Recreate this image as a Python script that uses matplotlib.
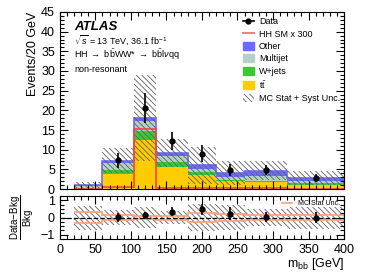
import numpy as np
import matplotlib
matplotlib.use("Agg")
import matplotlib.pyplot as plt
from matplotlib.lines import Line2D
from matplotlib.patches import Patch
from matplotlib.ticker import MultipleLocator

plt.rcParams['font.family'] = ['Liberation Sans', 'DejaVu Sans']
plt.rcParams['mathtext.fontset'] = 'custom'
plt.rcParams['mathtext.rm'] = 'Liberation Sans'
plt.rcParams['mathtext.it'] = 'Liberation Sans:italic'
plt.rcParams['hatch.linewidth'] = 0.6

# bin edges of m_bb [GeV]
edges = np.array([20, 60, 105, 135, 180, 220, 260, 320, 400])

# background stack, events / 20 GeV
ttbar = np.array([0.10, 3.7, 12.5, 5.5, 3.6, 2.0, 1.7, 1.10])
wjets = np.array([0.15, 1.2, 2.3, 1.3, 0.7, 0.3, 0.4, 0.35])
multijet = np.array([0.45, 1.7, 2.6, 1.6, 0.9, 0.7, 1.1, 0.55])
other = np.array([0.30, 0.6, 0.6, 0.7, 0.9, 1.0, 1.5, 0.80])

# total uncertainty (MC stat + syst) and MC stat only (relative)
unc_tot = np.array([0.7, 3.2, 11.0, 3.6, 4.7, 3.0, 2.3, 1.8])
mc_stat_rel = np.array([0.33, 0.14, 0.10, 0.12, 0.28, 0.22, 0.16, 0.13])

# HH signal (SM x 300)
hh = np.array([0.05, 0.6, 15.3, 0.3, 0.2, 0.2, 0.2, 0.1])

# data points
data_x = np.array([82.5, 120, 157.5, 200, 240, 290, 360])
data_y = np.array([7.3, 20.6, 12.3, 9.0, 4.9, 4.8, 2.8])
data_err = np.array([1.9, 3.7, 2.3, 2.1, 1.5, 1.3, 0.95])

col_tt = '#ffcc00'
col_w = '#33cc33'
col_mj = '#b3d1c9'
col_other = '#6b6bff'
col_hh = '#ff4040'
col_mcstat = '#ffa07a'
hatch_col = '#606060'
hatch = '\\\\\\\\\\\\'

fig = plt.figure(figsize=(3.74, 2.72), dpi=100)
ax = fig.add_axes([0.16, 0.305, 0.76, 0.651])
rax = fig.add_axes([0.16, 0.121, 0.76, 0.158])

# stacked backgrounds
base = np.zeros(len(ttbar))
for vals, col in [(ttbar, col_tt), (wjets, col_w), (multijet, col_mj), (other, col_other)]:
    top = base + vals
    ax.stairs(top, edges, baseline=base, fill=True, color=col, lw=0)
    base = top
total = base
ax.stairs(total, edges, baseline=None, color=col_other, lw=1.2)

widths = np.diff(edges)
centers = edges[:-1] + widths / 2
ax.bar(centers, 2 * unc_tot, bottom=total - unc_tot, width=widths, fill=False,
       hatch=hatch, edgecolor=hatch_col, lw=0)

ax.stairs(hh, edges, baseline=0, color=col_hh, lw=1.2)

ax.errorbar(data_x, data_y, yerr=data_err, fmt='o', color='black', ms=3.5,
            elinewidth=1.2, capsize=0)

ax.set_xlim(0, 400)
ax.set_ylim(0, 45)
ax.set_ylabel('Events/20 GeV', loc='top', fontsize=9)
ax.yaxis.set_label_coords(-0.075, 1.0)
ax.yaxis.set_major_locator(MultipleLocator(5))
ax.yaxis.set_minor_locator(MultipleLocator(1))
for a in (ax, rax):
    a.xaxis.set_major_locator(MultipleLocator(50))
    a.xaxis.set_minor_locator(MultipleLocator(10))
    a.tick_params(which='both', direction='in', top=True, right=True, labelsize=9, width=0.8)
    a.tick_params(which='major', length=6)
    a.tick_params(which='minor', length=3)
ax.tick_params(labelbottom=False)

ax.text(0.05, 0.9, 'ATLAS', transform=ax.transAxes, fontsize=9.5,
        fontweight='bold', fontstyle='italic')
ax.text(0.05, 0.82, r'$\sqrt{s}$ = 13 TeV, 36.1 fb$^{-1}$', transform=ax.transAxes, fontsize=6.5)
ax.text(0.05, 0.74, r'HH $\rightarrow$ b$\bar{\rm b}$WW* $\rightarrow$ b$\bar{\rm b}$l$\nu$qq',
        transform=ax.transAxes, fontsize=6.5)
ax.text(0.05, 0.66, 'non-resonant', transform=ax.transAxes, fontsize=6.5)

handles = [
    Line2D([], [], color='black', marker='o', ms=3.5, lw=1.2),
    Line2D([], [], color='#ff8080', lw=1.5),
    Patch(facecolor=col_other, edgecolor=col_other),
    Patch(facecolor=col_mj, edgecolor=col_mj),
    Patch(facecolor=col_w, edgecolor=col_w),
    Patch(facecolor=col_tt, edgecolor=col_tt),
    Patch(facecolor='none', edgecolor=hatch_col, hatch=hatch, lw=0),
]
labels = ['Data', 'HH SM x 300', 'Other', 'Multijet', 'W+jets', r't$\bar{\rm t}$',
          'MC Stat + Syst Unc.']
ax.legend(handles, labels, loc='upper left', bbox_to_anchor=(0.63, 0.99), frameon=False,
          fontsize=6.5, handlelength=1.3, handleheight=1.0, labelspacing=0.35,
          handletextpad=0.5, borderaxespad=0)

# ratio panel
ratio = data_y / total[1:] - 1
ratio_err = data_err / total[1:]
rel_tot = unc_tot / total
rax.bar(centers, 2 * rel_tot, bottom=-rel_tot, width=widths, fill=False,
        hatch=hatch, edgecolor=hatch_col, lw=0)
rax.stairs(mc_stat_rel, edges, baseline=None, color=col_mcstat, lw=1.2)
rax.stairs(-mc_stat_rel, edges, baseline=None, color=col_mcstat, lw=1.2)
rax.axhline(0, color='black', ls='--', lw=0.9)
rax.errorbar(data_x, ratio, yerr=ratio_err, fmt='o', color='black', ms=3.5,
             elinewidth=1.2, capsize=0)
rax.set_xlim(0, 400)
rax.set_ylim(-1.25, 1.25)
rax.yaxis.set_major_locator(MultipleLocator(1))
rax.yaxis.set_minor_locator(MultipleLocator(0.25))
rax.set_ylabel(r'$\dfrac{\rm Data\!-\!Bkg}{\rm Bkg}$', fontsize=7)
rax.yaxis.set_label_coords(-0.085, 0.5)
rax.text(1.0, -0.4, r'm$_{\rm bb}$ [GeV]', transform=rax.transAxes, ha='right', va='top',
         fontsize=9)
rax.legend([Line2D([], [], color=col_mcstat, lw=1.2)], ['MC Stat Unc.'], loc='upper right',
           frameon=False, fontsize=5, handlelength=1.5, borderaxespad=0.2)

fig.savefig('out.png', dpi=100)
